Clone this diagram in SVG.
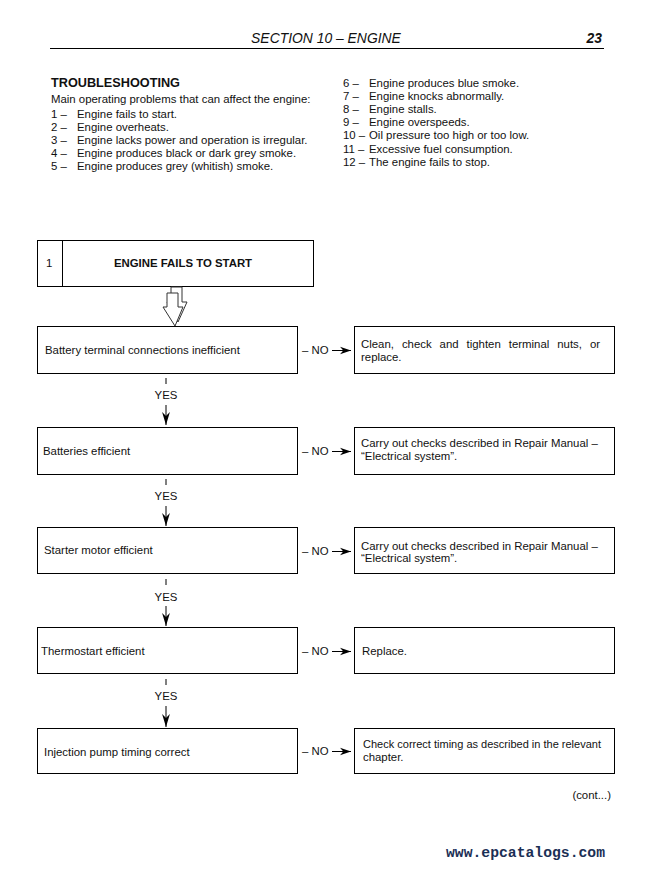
<svg xmlns="http://www.w3.org/2000/svg" width="657" height="869" viewBox="0 0 657 869">
<defs>
<style>
text{font-family:"Liberation Sans",Arial,sans-serif;fill:#111;}
.t{font-size:11.4px;}
.b{font-weight:bold;}
.box{fill:#fff;stroke:#000;stroke-width:1;}
.ln{stroke:#000;stroke-width:1;fill:none;}
</style>
<marker id="ah" viewBox="0 0 10 10" refX="10" refY="5" markerWidth="11" markerHeight="11" markerUnits="userSpaceOnUse" orient="auto"><path d="M0,1.5 L10,5 L0,8.5 L3,5 Z" fill="#000"/></marker>
<marker id="ahv" viewBox="0 0 10 10" refX="10" refY="5" markerWidth="13" markerHeight="13" markerUnits="userSpaceOnUse" orient="auto"><path d="M0,2 L10,5 L0,8 L3,5 Z" fill="#000"/></marker>
</defs>
<rect width="657" height="869" fill="#fff"/>
<g id="header">
<text x="326" y="43" text-anchor="middle" font-size="13.9" font-style="italic">SECTION 10 – ENGINE</text>
<text x="602" y="43" text-anchor="end" font-size="13.9" font-style="italic" font-weight="bold">23</text>
<line x1="50" y1="48.5" x2="604" y2="48.5" stroke="#000" stroke-width="1"/>
</g>
<g id="intro" class="t">
<text x="51" y="87" class="b" font-size="12.7">TROUBLESHOOTING</text>
<text x="51" y="103">Main operating problems that can affect the engine:</text>
<text x="51" y="118">1 –</text><text x="77" y="118">Engine fails to start.</text>
<text x="51" y="131">2 –</text><text x="77" y="131">Engine overheats.</text>
<text x="51" y="144">3 –</text><text x="77" y="144">Engine lacks power and operation is irregular.</text>
<text x="51" y="157">4 –</text><text x="77" y="157">Engine produces black or dark grey smoke.</text>
<text x="51" y="170">5 –</text><text x="77" y="170">Engine produces grey (whitish) smoke.</text>
<text x="343" y="87">6 –</text><text x="369" y="87">Engine produces blue smoke.</text>
<text x="343" y="100">7 –</text><text x="369" y="100">Engine knocks abnormally.</text>
<text x="343" y="113">8 –</text><text x="369" y="113">Engine stalls.</text>
<text x="343" y="126">9 –</text><text x="369" y="126">Engine overspeeds.</text>
<text x="343" y="139">10 –</text><text x="369" y="139">Oil pressure too high or too low.</text>
<text x="343" y="153">11 –</text><text x="369" y="153">Excessive fuel consumption.</text>
<text x="343" y="166">12 –</text><text x="369" y="166">The engine fails to stop.</text>
</g>
<g id="title">
<rect class="box" x="37.5" y="240.5" width="276" height="46"/>
<line class="ln" x1="62.5" y1="240.5" x2="62.5" y2="286.5"/>
<text x="46" y="267" class="t">1</text>
<text x="183" y="267" class="t b" text-anchor="middle">ENGINE FAILS TO START</text>
</g>
<g id="bigarrow" fill="#fff" stroke="#333" stroke-width="1">
<polygon points="171,287 182,287 182,302 187,302 178,322 167,302 171,302"/>
<polygon points="167,293 178,293 178,307 183,307 175,326 163,307 167,307"/>
</g>
<g id="n1">
<rect class="box" x="37.5" y="326.5" width="260" height="47"/>
<text x="45" y="354" class="t">Battery terminal connections inefficient</text>
</g>
<g id="r1">
<rect class="box" x="354.5" y="326.5" width="260" height="47"/>
<text x="361" y="348" class="t" word-spacing="4.8">Clean, check and tighten terminal nuts, or</text>
<text x="361" y="361" class="t">replace.</text>
</g>
<g id="n2">
<rect class="box" x="37.5" y="427.5" width="260" height="47"/>
<text x="43" y="455" class="t">Batteries efficient</text>
</g>
<g id="r2">
<rect class="box" x="354.5" y="427.5" width="260" height="47"/>
<text x="361" y="447" class="t">Carry out checks described in Repair Manual –</text>
<text x="361" y="460" class="t">“Electrical system”.</text>
</g>
<g id="n3">
<rect class="box" x="37.5" y="527.5" width="260" height="46"/>
<text x="44" y="554" class="t">Starter motor efficient</text>
</g>
<g id="r3">
<rect class="box" x="354.5" y="527.5" width="260" height="46"/>
<text x="361" y="550" class="t">Carry out checks described in Repair Manual –</text>
<text x="361" y="562" class="t">“Electrical system”.</text>
</g>
<g id="n4">
<rect class="box" x="37.5" y="627.5" width="260" height="46"/>
<text x="41" y="655" class="t">Thermostart efficient</text>
</g>
<g id="r4">
<rect class="box" x="354.5" y="627.5" width="260" height="46"/>
<text x="362" y="655" class="t">Replace.</text>
</g>
<g id="n5">
<rect class="box" x="37.5" y="728.5" width="260" height="45"/>
<text x="44" y="756" class="t">Injection pump timing correct</text>
</g>
<g id="r5">
<rect class="box" x="354.5" y="728.5" width="260" height="45"/>
<text x="363" y="748" class="t" textLength="238" lengthAdjust="spacingAndGlyphs">Check correct timing as described in the relevant</text>
<text x="363" y="761" class="t">chapter.</text>
</g>
<g id="connectors">
<text x="302" y="354" class="t">– NO</text>
<line class="ln" x1="332" y1="350.5" x2="351" y2="350.5" marker-end="url(#ah)"/>
<text x="302" y="455" class="t">– NO</text>
<line class="ln" x1="332" y1="451.5" x2="351" y2="451.5" marker-end="url(#ah)"/>
<text x="302" y="555" class="t">– NO</text>
<line class="ln" x1="332" y1="551.5" x2="351" y2="551.5" marker-end="url(#ah)"/>
<text x="302" y="655" class="t">– NO</text>
<line class="ln" x1="332" y1="651.5" x2="351" y2="651.5" marker-end="url(#ah)"/>
<text x="302" y="755" class="t">– NO</text>
<line class="ln" x1="332" y1="751.5" x2="351" y2="751.5" marker-end="url(#ah)"/>
<line class="ln" x1="166" y1="378" x2="166" y2="384"/>
<text x="166" y="399" class="t" text-anchor="middle">YES</text>
<line class="ln" x1="166" y1="405" x2="166" y2="425" marker-end="url(#ahv)"/>
<line class="ln" x1="166" y1="479" x2="166" y2="485"/>
<text x="166" y="500" class="t" text-anchor="middle">YES</text>
<line class="ln" x1="166" y1="506" x2="166" y2="526" marker-end="url(#ahv)"/>
<line class="ln" x1="166" y1="579" x2="166" y2="585"/>
<text x="166" y="601" class="t" text-anchor="middle">YES</text>
<line class="ln" x1="166" y1="606" x2="166" y2="626" marker-end="url(#ahv)"/>
<line class="ln" x1="166" y1="679" x2="166" y2="685"/>
<text x="166" y="700" class="t" text-anchor="middle">YES</text>
<line class="ln" x1="166" y1="706" x2="166" y2="727" marker-end="url(#ahv)"/>
</g>
<g id="footer">
<text x="611" y="799" class="t" text-anchor="end">(cont...)</text>
<text x="446" y="857" font-weight="bold" font-size="14" textLength="159" lengthAdjust="spacingAndGlyphs" style="font-family:'Liberation Mono',monospace;fill:#1b2f55">www.epcatalogs.com</text>
</g>
</svg>
